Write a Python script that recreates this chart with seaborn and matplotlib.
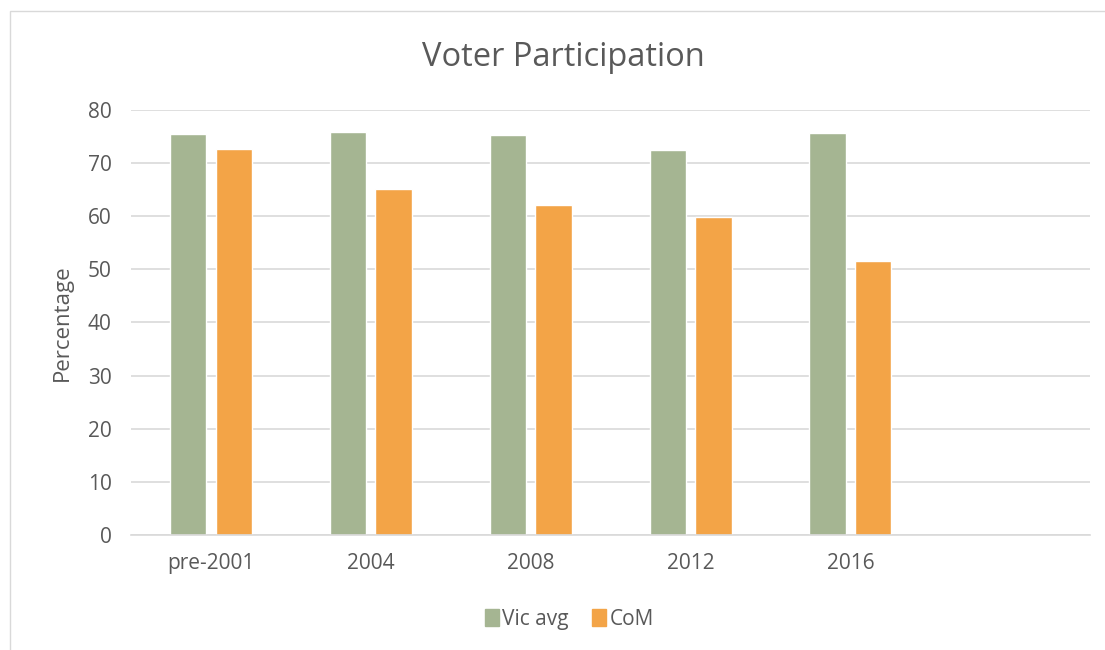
import matplotlib
matplotlib.use("Agg")
import matplotlib.pyplot as plt
import seaborn as sns
import pandas as pd

# data
years = ["pre-2001", "2004", "2008", "2012", "2016"]
vic_avg = [75.5, 75.8, 75.2, 72.5, 75.6]
com = [72.6, 65.1, 62.1, 59.9, 51.6]
series = ["Vic avg", "CoM"]
colors = ["#a5b592", "#f3a447"]

df = pd.DataFrame({
    "year": years * 2,
    "value": vic_avg + com,
    "series": [series[0]] * len(years) + [series[1]] * len(years),
})

sns.set_style("white")
plt.rcParams["font.family"] = ["Open Sans", "DejaVu Sans"]
grey = "#595959"

fig = plt.figure(figsize=(11.05, 6.5), dpi=100)
ax = fig.add_axes([0.1186, 0.177, 0.868, 0.654])

# empty sixth slot like the original (Excel left a blank category)
order = years + [""]
sns.barplot(data=df, x="year", y="value", hue="series", order=order,
            hue_order=series, palette=colors, width=0.57, gap=0.2,
            ax=ax, legend=False, saturation=1)

ax.set_ylim(0, 80)
ax.set_yticks(range(0, 81, 10))
ax.set_xlim(-0.5, len(order) - 0.5)
ax.yaxis.grid(True, color="#d9d9d9", linewidth=1.2)
ax.set_axisbelow(True)
for s in ["top", "right", "left"]:
    ax.spines[s].set_visible(False)
ax.spines["bottom"].set_color("#d9d9d9")
ax.spines["bottom"].set_linewidth(1.2)
ax.tick_params(axis="both", length=0, colors=grey, labelsize=15)
ax.tick_params(axis="x", pad=13)
ax.tick_params(axis="y", pad=14)
ax.set_xlabel("")
ax.set_ylabel("Percentage", color=grey, fontsize=16, labelpad=11)

fig.suptitle("Voter Participation", x=0.51, y=0.937, fontsize=23.5, color=grey)

handles = [plt.Rectangle((0, 0), 1, 1, color=c) for c in colors]
fig.legend(handles, series, loc="center", bbox_to_anchor=(0.515, 0.047), ncol=2,
           frameon=False, fontsize=15, handlelength=0.7, handleheight=0.85,
           handletextpad=0.15, columnspacing=1.1, labelcolor=grey)

# chart area border
fig.patches.append(plt.Rectangle((10 / 1105, -0.1), 1.2, 1.1 - 11 / 650,
                                 transform=fig.transFigure, fill=False,
                                 edgecolor="#d9d9d9", linewidth=1))

fig.savefig("out.png", dpi=100)
